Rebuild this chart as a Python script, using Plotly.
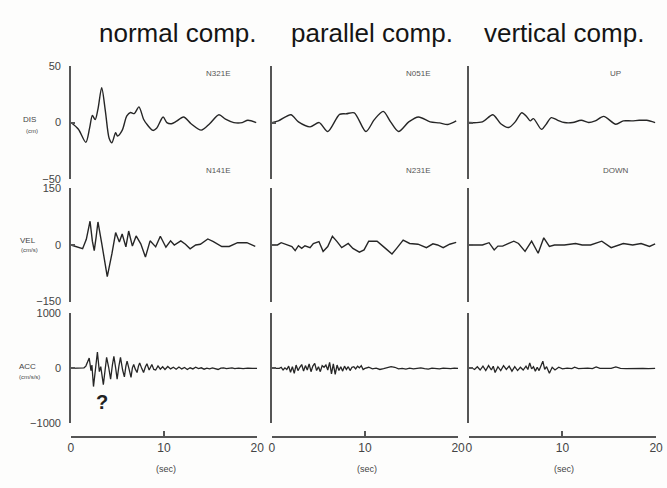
import plotly.graph_objects as go

W, H = 667, 488

# ---------------- data ----------------
col_titles = ["normal comp.", "parallel comp.", "vertical comp."]
row_names = ["DIS", "VEL", "ACC"]
row_units = ["(cm)", "(cm/s)", "(cm/s/s)"]
row_limits = [50, 150, 1000]
row_ticktext = [["−50", "0", "50"], ["−150", "0", "150"], ["−1000", "0", "1000"]]
dir_labels = [["N321E", "N051E", "UP"], ["N141E", "N231E", "DOWN"]]
time_ticks = [0, 10, 20]

# normal component
dis_n_t = [0, 0.8, 1.6, 2.0, 2.3, 2.6, 2.9, 3.3, 3.7, 4.1, 4.4, 4.8, 5.0, 5.5, 6.0, 6.4, 6.8, 7.3, 7.8,
           8.2, 8.8, 9.2, 9.9, 10.3, 10.8, 11.3, 12.1, 12.9, 14.0, 14.9, 15.9, 16.6, 17.5, 18.4, 19.0, 19.9]
dis_n_v = [0, -6, -17.7, -5, 6.3, 2.6, 12, 31, 10, -14, -18, -9, -12, -7, 6, 9, 8, 14, 3,
           -2, -7, -5, 5, 0, -1, 1, 5, -1, -6.7, -1, 7, 3, 0, 0, 2, 0]

vel_n_t = [0, 0.7, 1.25, 1.65, 2.05, 2.3, 2.5, 2.7, 2.9, 3.3, 3.9, 4.4, 4.8, 5.2, 5.5, 5.9, 6.2, 6.6, 7.0,
           7.5, 8.0, 8.5, 9.1, 9.6, 10.2, 10.7, 11.1, 11.8, 12.3, 12.8, 13.4, 13.9, 14.7, 15.3, 16.2,
           17.0, 17.9, 18.9, 19.8]
vel_n_v = [0, -6, -10, 15, 63, 10, -15, 20, 61, 5, -84, -23, 33, 8, 29, -5, 37, -3, 24,
           3, -32, 11, -5, 23, -6, 11, 0, 11, 2, -10, 0, 2, 16, 9, -4,
           -4, 6, 6, -4]

acc_n_t = [0, 1.0, 1.4, 1.6, 1.96, 2.15, 2.25, 2.42, 2.65, 2.84, 3.05, 3.2, 3.48, 3.65, 3.83, 4.05, 4.26,
           4.45, 4.61, 4.8, 4.96, 5.15, 5.32, 5.55, 5.74, 5.9, 6.03, 6.25, 6.45, 6.6, 6.74, 6.9, 7.1,
           7.25, 7.38, 7.6, 7.8, 8.0, 8.16, 8.4, 8.69, 8.9, 9.1, 9.35, 9.6, 9.85, 10.1, 10.4, 10.7,
           11.0, 11.3, 11.6, 11.9, 12.2, 12.5, 12.8, 13.1, 13.4, 13.7, 14.0, 14.3, 14.6, 14.9, 15.2,
           15.5, 15.8, 16.1, 16.4, 16.7, 17.0, 17.3, 17.6, 18.0, 18.5, 19.0, 19.5, 20.0]
acc_n_v = [0, 0, 10, 41, 188, -40, 60, -330, 40, 294, -60, 30, -294, -50, 200, 20, -194,
           60, 218, 10, -194, 40, 200, -30, -153, 40, 130, -20, -165, 10, 70, -10, -76,
           40, 100, 0, -76, 30, 82, -30, 70, -20, -30, 45, -15, 30, -20, 35, -10,
           20, -15, 25, -10, 15, -20, 10, -10, 20, -5, 10, -15, 5, -10, 10,
           -5, -20, 5, 10, -5, 0, 10, -5, 5, -5, 5, 0, 0]

# parallel component
dis_p_t = [0, 0.7, 2.04, 2.85, 4.1, 5.08, 6.0, 7.27, 8.0, 8.85, 10.1, 11.0, 11.96, 12.75, 13.6,
           14.7, 15.75, 17.0, 18.0, 18.9, 19.8]
dis_p_v = [0, 1.5, 7, 0.6, -3.8, 0, -8, 7.3, 7.8, 8.7, -8, 2.6, 10, 0.6, -8,
           0.6, 5, 0.6, -0.3, -1.7, 1.5]

vel_p_t = [0, 0.6, 1.0, 2.15, 2.5, 2.85, 3.2, 3.55, 4.1, 4.45, 5.05, 5.5, 6.0, 6.5, 7.0, 7.5, 8.2,
           8.7, 9.4, 9.9, 10.4, 11.3, 12.2, 12.9, 13.4, 14.1, 14.8, 15.7, 16.6, 17.3, 17.8, 18.4,
           19.1, 19.8]
vel_p_v = [0, 0, 6, -4, -15, -2, -9, -2, -7, 4, 9, -17, -4, 23, 9, -7, 4,
           -9, -19, -13, 10, 10, -9, -24, -9, 13, 4, 2, -7, 3, 0, -7,
           2, 7]

acc_p_t = [0, 0.8, 1.0, 1.2, 1.4, 1.6, 1.8, 2.0, 2.2, 2.4, 2.6, 2.8, 3.0, 3.2, 3.4, 3.6, 3.8, 4.0,
           4.2, 4.4, 4.6, 4.8, 5.0, 5.2, 5.4, 5.6, 5.8, 6.0, 6.2, 6.4, 6.6, 6.8, 7.0, 7.2, 7.4, 7.6,
           7.8, 8.0, 8.2, 8.4, 8.6, 8.8, 9.0, 9.2, 9.4, 9.6, 9.8, 10.0, 10.4, 10.8, 11.2, 11.6,
           12.0, 12.4, 12.8, 13.2, 13.6, 14.0, 14.4, 14.8, 15.2, 15.6, 16.0, 16.4, 16.8, 17.2,
           17.6, 18.0, 18.4, 18.8, 19.2, 19.6, 20.0]
acc_p_v = [0, 0, 20, -30, 10, -20, 40, -70, 30, -90, 60, -40, 20, 70, -50, 50, -30, 80,
           -60, 40, 90, -40, 30, -60, 50, 20, 60, -30, 110, -100, 80, -110, 60, -40, 30, -50,
           40, -20, 30, -40, 20, 30, -10, 40, 10, 50, -20, 0, 20, -10, 5, -20,
           -5, 10, 30, 20, -10, 0, -15, 5, -10, 0, 10, -5, -15, 5,
           0, -10, 5, 0, -5, 5, 0]

# vertical component
dis_v_t = [0, 1.44, 2.56, 3.4, 4.25, 4.95, 5.65, 6.2, 6.55, 6.9, 7.76, 8.3, 8.8, 9.5, 10.2, 11.1,
           12.0, 12.8, 13.5, 14.4, 15.7, 16.5, 17.4, 18.2, 19.0, 19.9]
dis_v_v = [0, 0.6, 7, -1, -4.4, 0.6, 8.7, 5, 1.5, 3.5, -6, -1, 4.4, 2, 0, 0,
           2, 0, 1.5, 5.5, -1.5, 1.5, 1.5, 2, 2, 0]

vel_v_t = [0, 1.44, 2.15, 2.7, 3.1, 3.6, 4.25, 4.8, 5.3, 6.0, 6.7, 7.4, 8.0, 8.6, 9.15, 10.2, 11.4,
           12.1, 13.0, 14.2, 15.2, 15.9, 16.5, 17.5, 18.4, 19.3, 19.9]
vel_v_v = [0, 0, 6, -13, -3, -3, 4, 10, 4, -17, 10, -22, 19, -4, 0, 0, 4,
           0, 0, 10, -7, 0, 4, 0, 4, -4, 3]

acc_v_t = [0, 0.3, 0.6, 0.9, 1.2, 1.5, 1.8, 2.1, 2.4, 2.6, 2.8, 3.1, 3.4, 3.7, 4.0, 4.3, 4.6, 4.9,
           5.2, 5.5, 5.8, 6.1, 6.3, 6.5, 6.7, 6.9, 7.1, 7.3, 7.5, 7.7, 7.9, 8.1, 8.3, 8.6, 8.9,
           9.2, 9.6, 10.0, 10.5, 11.0, 11.3, 11.7, 12.2, 12.7, 13.2, 13.6, 14.0, 14.6, 15.2,
           15.7, 16.2, 16.8, 17.4, 18.0, 18.6, 19.2, 19.9]
acc_v_v = [0, 10, -20, 30, -30, 40, -40, 50, -30, 40, -76, 30, -40, 50, -20, 40, -50, 30,
           -40, 20, -30, 40, -20, 100, -10, 30, -50, 20, -40, 60, 130, -20, 30, -90, 20,
           -30, 20, -10, 5, -5, 20, -5, 0, 5, -5, 25, 0, -5, 0,
           25, 0, -5, 0, 5, 0, -5, 0]

series = [
    [(dis_n_t, dis_n_v), (dis_p_t, dis_p_v), (dis_v_t, dis_v_v)],
    [(vel_n_t, vel_n_v), (vel_p_t, vel_p_v), (vel_v_t, vel_v_v)],
    [(acc_n_t, acc_n_v), (acc_p_t, acc_p_v), (acc_v_t, acc_v_v)],
]

# ---------------- layout geometry (pixels) ----------------
col_px = [(69, 258), (273, 462), (473, 663)]
row_px = [(62, 177), (187, 303), (315, 428)]
xaxis_py = 442

def px(x):
    return x / W

def py(y):
    return 1 - y / H

FONT = "Liberation Sans, Arial, sans-serif"
INK = "#262626"
AXC = "#555555"

fig = go.Figure()
layout = dict(
    width=W, height=H,
    margin=dict(l=0, r=0, t=0, b=0),
    paper_bgcolor="#fdfdfc", plot_bgcolor="rgba(0,0,0,0)",
    showlegend=False,
    font=dict(family=FONT, color="#333"),
)

annotations = []
for r in range(3):
    for c in range(3):
        idx = r * 3 + c + 1
        t, v = series[r][c]
        fig.add_trace(go.Scatter(
            x=t, y=v, mode="lines",
            line=dict(color=INK, width=1.4 if r < 2 else 1.3,
                      shape="spline" if r == 0 else "linear", smoothing=0.8),
            xaxis=f"x{idx}", yaxis=f"y{idx}", hoverinfo="skip"))
        xa = dict(domain=[px(col_px[c][0]), px(col_px[c][1])], range=[0, 20],
                  showgrid=False, zeroline=False)
        if r == 2:
            xa.update(anchor="free", position=py(xaxis_py), showline=True,
                      linecolor=AXC, linewidth=1.5, ticks="inside", ticklen=5,
                      tickcolor=AXC, tickwidth=1.5, tickvals=time_ticks,
                      ticktext=[str(v) for v in time_ticks],
                      tickfont=dict(size=12, color="#444"))
        else:
            xa.update(anchor=f"y{idx}", visible=False)
        lim = row_limits[r]
        ya = dict(domain=[py(row_px[r][1]), py(row_px[r][0])], range=[-lim, lim],
                  anchor=f"x{idx}", showgrid=False, zeroline=False, showline=True,
                  linecolor=AXC, linewidth=1.5, ticks="inside", ticklen=4,
                  tickcolor=AXC, tickwidth=1.5, tickvals=[-lim, 0, lim],
                  ticktext=row_ticktext[r], showticklabels=(c == 0),
                  ticklabelstandoff=6, tickfont=dict(size=11, color="#444"))
        layout[f"xaxis{idx}" if idx > 1 else "xaxis"] = xa
        layout[f"yaxis{idx}" if idx > 1 else "yaxis"] = ya

# column titles
title_cx = [178, 375, 570]
for c in range(3):
    annotations.append(dict(text=col_titles[c], x=px(title_cx[c]), y=py(28), xref="paper",
                            yref="paper", showarrow=False, xanchor="center", yanchor="middle",
                            font=dict(size=26, color="#151515", family=FONT)))

# direction labels
dir_cx = [218, 421, 622]
dir_py = [69, 169]
for k in range(2):
    for c in range(3):
        annotations.append(dict(text=dir_labels[k][c], x=px(dir_cx[c]), y=py(dir_py[k]),
                                xref="paper", yref="paper", showarrow=False,
                                xanchor="center", yanchor="middle",
                                font=dict(size=8, color="#555", family=FONT)))

# row quantity labels
name_pos = [(27, 116, 128), (25, 240, 250), (25, 370, 380)]
for r in range(3):
    x0, y0, y1 = name_pos[r]
    annotations.append(dict(text=row_names[r], x=px(x0), y=py(y0), xref="paper", yref="paper",
                            showarrow=False, xanchor="center", yanchor="middle",
                            font=dict(size=8, color="#444", family=FONT)))
    annotations.append(dict(text=row_units[r], x=px(x0 + 2), y=py(y1), xref="paper",
                            yref="paper", showarrow=False, xanchor="center", yanchor="middle",
                            font=dict(size=6, color="#444", family=FONT)))

# time unit labels
for c in range(3):
    annotations.append(dict(text="(sec)", x=px((col_px[c][0] + col_px[c][1]) / 2 + 2),
                            y=py(475), xref="paper", yref="paper", showarrow=False,
                            xanchor="center", yanchor="middle",
                            font=dict(size=9, color="#444", family=FONT)))

# question mark
annotations.append(dict(text="<b>?</b>", x=px(100), y=py(406), xref="paper", yref="paper",
                        showarrow=False, xanchor="center", yanchor="middle",
                        font=dict(size=20, color="#222", family=FONT)))

layout["annotations"] = annotations
fig.update_layout(**layout)
fig.write_html("out.html", config={"displayModeBar": False},
               post_script="document.body.style.margin='0';document.body.style.overflow='hidden';")
